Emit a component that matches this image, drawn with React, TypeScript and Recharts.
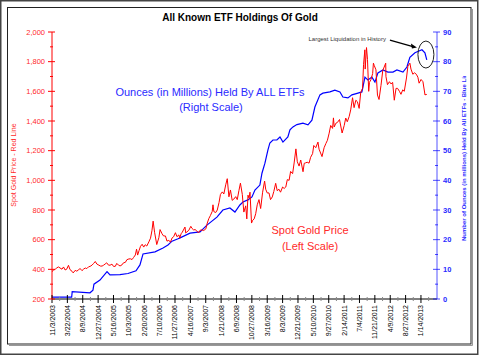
import React from "react";
import { LineChart, Line, XAxis, YAxis, ReferenceDot } from "recharts";

// x axis labels (every 20 weeks) and the right end of the axis
const tickLabels = [
  "11/3/2003", "3/22/2004", "8/9/2004", "12/27/2004", "5/16/2005", "10/3/2005",
  "2/20/2006", "7/10/2006", "11/27/2006", "4/16/2007", "9/3/2007", "1/21/2008",
  "6/9/2008", "10/27/2008", "3/16/2009", "8/3/2009", "12/21/2009", "5/10/2010",
  "9/27/2010", "2/14/2011", "7/4/2011", "11/21/2011", "4/9/2012", "8/27/2012", "1/14/2013",
];
const axisEnd = "6/9/2013";

const goldTicks = [200, 400, 600, 800, 1000, 1200, 1400, 1600, 1800, 2000];
const etfTicks = [0, 10, 20, 30, 40, 50, 60, 70, 80, 90];

// spot gold
const goldDates = [
  "2003-11-03", "2003-11-17", "2003-12-01", "2003-12-15", "2004-01-02", "2004-01-15", "2004-02-02", "2004-02-16",
  "2004-03-01", "2004-03-15", "2004-04-01", "2004-04-15", "2004-05-03", "2004-05-14", "2004-06-01", "2004-06-15",
  "2004-07-01", "2004-07-15", "2004-08-02", "2004-08-16", "2004-09-01", "2004-09-15", "2004-10-01", "2004-10-15",
  "2004-11-01", "2004-11-15", "2004-12-01", "2004-12-15", "2005-01-03", "2005-01-17", "2005-02-01", "2005-02-15",
  "2005-03-01", "2005-03-15", "2005-04-01", "2005-04-15", "2005-05-02", "2005-05-16", "2005-06-01", "2005-06-15",
  "2005-07-01", "2005-07-15", "2005-08-01", "2005-08-15", "2005-09-01", "2005-09-15", "2005-10-03", "2005-10-17",
  "2005-11-01", "2005-11-15", "2005-12-01", "2005-12-12", "2005-12-22", "2006-01-03", "2006-01-17", "2006-02-01",
  "2006-02-15", "2006-03-01", "2006-03-15", "2006-04-03", "2006-04-18", "2006-05-01", "2006-05-12", "2006-05-25",
  "2006-06-14", "2006-07-03", "2006-07-14", "2006-08-01", "2006-08-15", "2006-09-01", "2006-09-15", "2006-10-02",
  "2006-10-16", "2006-11-01", "2006-11-15", "2006-12-01", "2006-12-15", "2007-01-02", "2007-01-09", "2007-01-22",
  "2007-02-01", "2007-02-26", "2007-03-05", "2007-03-15", "2007-04-02", "2007-04-20", "2007-05-01", "2007-05-15",
  "2007-06-01", "2007-06-15", "2007-07-02", "2007-07-16", "2007-08-01", "2007-08-16", "2007-09-04", "2007-09-17",
  "2007-10-01", "2007-10-15", "2007-11-01", "2007-11-08", "2007-11-16", "2007-12-03", "2007-12-17", "2008-01-02",
  "2008-01-15", "2008-02-01", "2008-02-15", "2008-03-03", "2008-03-17", "2008-04-01", "2008-04-15", "2008-05-01",
  "2008-05-15", "2008-06-02", "2008-06-16", "2008-07-01", "2008-07-15", "2008-08-01", "2008-08-15", "2008-09-01",
  "2008-09-11", "2008-09-22", "2008-10-01", "2008-10-10", "2008-10-24", "2008-11-03", "2008-11-17", "2008-12-01",
  "2008-12-15", "2008-12-31", "2009-01-15", "2009-02-02", "2009-02-20", "2009-03-02", "2009-03-16", "2009-04-01",
  "2009-04-15", "2009-05-01", "2009-05-15", "2009-06-01", "2009-06-15", "2009-07-01", "2009-07-15", "2009-08-03",
  "2009-08-17", "2009-09-01", "2009-09-15", "2009-10-01", "2009-10-15", "2009-11-02", "2009-11-16", "2009-12-02",
  "2009-12-15", "2009-12-31", "2010-01-15", "2010-02-05", "2010-02-16", "2010-03-01", "2010-03-15", "2010-04-01",
  "2010-04-15", "2010-05-03", "2010-05-14", "2010-06-01", "2010-06-21", "2010-07-01", "2010-07-28", "2010-08-16",
  "2010-09-01", "2010-09-15", "2010-10-01", "2010-10-15", "2010-11-01", "2010-11-09", "2010-11-16", "2010-12-01",
  "2010-12-15", "2011-01-03", "2011-01-27", "2011-02-15", "2011-03-01", "2011-03-15", "2011-04-01", "2011-04-15",
  "2011-05-02", "2011-05-16", "2011-06-01", "2011-06-15", "2011-07-01", "2011-07-15", "2011-08-01", "2011-08-10",
  "2011-08-22", "2011-08-25", "2011-09-06", "2011-09-15", "2011-09-26", "2011-10-03", "2011-10-17", "2011-11-01",
  "2011-11-08", "2011-11-15", "2011-12-01", "2011-12-15", "2011-12-29", "2012-01-16", "2012-02-01", "2012-02-28",
  "2012-03-01", "2012-03-15", "2012-04-02", "2012-04-16", "2012-05-01", "2012-05-16", "2012-06-01", "2012-06-15",
  "2012-07-02", "2012-07-16", "2012-08-01", "2012-08-15", "2012-09-04", "2012-09-17", "2012-10-05", "2012-10-15",
  "2012-11-01", "2012-11-15", "2012-12-03", "2012-12-17", "2012-12-28", "2013-01-15", "2013-02-01", "2013-02-20",
  "2013-03-01", "2013-03-08",
];
const goldPrices = [
  383, 397, 398, 410, 416, 409, 401, 416,
  396, 400, 427, 398, 387, 376, 393, 388,
  395, 406, 391, 401, 409, 405, 417, 420,
  428, 439, 453, 436, 428, 422, 422, 428,
  436, 444, 428, 428, 435, 420, 420, 440,
  428, 423, 430, 444, 447, 465, 470, 471,
  466, 480, 497, 536, 496, 525, 555, 569,
  550, 566, 557, 585, 610, 660, 725, 650,
  567, 613, 668, 640, 625, 625, 590, 596,
  583, 612, 620, 647, 620, 632, 610, 640,
  650, 685, 645, 652, 663, 690, 676, 666,
  668, 655, 648, 665, 665, 662, 673, 712,
  742, 762, 790, 835, 789, 783, 800, 850,
  905, 922, 908, 970, 1011, 889, 935, 865,
  873, 890, 870, 930, 981, 905, 786, 828,
  740, 900, 880, 920, 712, 730, 740, 775,
  835, 870, 810, 920, 995, 940, 915, 915,
  870, 888, 925, 980, 930, 940, 920, 955,
  945, 955, 1005, 1000, 1060, 1045, 1117, 1212,
  1125, 1096, 1137, 1058, 1115, 1118, 1122, 1116,
  1155, 1180, 1235, 1220, 1258, 1210, 1160, 1220,
  1248, 1270, 1318, 1370, 1350, 1421, 1360, 1385,
  1390, 1410, 1319, 1370, 1420, 1395, 1430, 1475,
  1557, 1490, 1540, 1530, 1485, 1590, 1620, 1780,
  1880, 1750, 1895, 1815, 1600, 1660, 1680, 1720,
  1790, 1775, 1745, 1575, 1545, 1640, 1740, 1790,
  1700, 1645, 1665, 1650, 1660, 1540, 1620, 1620,
  1600, 1580, 1610, 1600, 1690, 1770, 1790, 1750,
  1715, 1725, 1715, 1695, 1655, 1680, 1665, 1575,
  1580, 1578,
];

// ETF holdings in millions of ounces
const etfDates = [
  "2003-11-03", "2004-04-30", "2004-05-05", "2004-10-14", "2004-11-10", "2004-11-19", "2005-01-13", "2005-03-18",
  "2005-04-14", "2005-07-14", "2005-09-25", "2005-12-07", "2006-01-12", "2006-02-09", "2006-05-29", "2006-08-10",
  "2006-09-24", "2006-10-31", "2006-12-25", "2007-01-12", "2007-04-13", "2007-07-13", "2007-09-14", "2007-12-14",
  "2008-02-06", "2008-04-10", "2008-05-26", "2008-07-10", "2008-08-07", "2008-09-21", "2008-10-28", "2008-11-24",
  "2009-01-08", "2009-01-27", "2009-02-23", "2009-03-22", "2009-04-09", "2009-05-07", "2009-06-12", "2009-07-10",
  "2009-08-06", "2009-09-20", "2009-10-09", "2009-11-05", "2009-12-11", "2010-02-04", "2010-03-22", "2010-04-27",
  "2010-05-24", "2010-07-09", "2010-08-05", "2010-10-08", "2010-11-22", "2011-01-07", "2011-02-03", "2011-03-21",
  "2011-04-26", "2011-06-20", "2011-07-26", "2011-08-23", "2011-09-19", "2011-10-25", "2011-11-22", "2011-12-19",
  "2012-02-03", "2012-03-19", "2012-05-04", "2012-06-09", "2012-08-03", "2012-09-08", "2012-10-05", "2012-11-20",
  "2013-01-23", "2013-02-19", "2013-03-08",
];
const etfOunces = [
  0.6, 0.6, 2.5, 2.1, 3.0, 5.0, 6.4, 9.2,
  8.1, 8.2, 8.6, 9.5, 11.5, 15.2, 15.9, 17.2,
  18.2, 19.5, 20.3, 20.6, 22.2, 22.6, 24.9, 27.6,
  30.0, 30.7, 29.3, 31.7, 32.7, 33.4, 34.4, 36.7,
  38.4, 42.4, 45.8, 50.2, 52.6, 53.6, 53.6, 54.6,
  52.9, 54.6, 57.0, 58.0, 58.8, 59.3, 58.7, 60.3,
  64.7, 68.8, 69.4, 69.8, 70.4, 69.8, 68.1, 67.8,
  68.8, 69.4, 69.8, 74.8, 73.8, 74.8, 73.1, 76.2,
  77.2, 76.5, 76.5, 77.2, 76.5, 78.2, 81.5, 83.0,
  84.0, 83.0, 80.6,
];

// circled liquidation
const circleDate = "2013-02-28";
const circleOunces = 82.4;

const RED = "#ff0000";
const BLUE = "#0000ff";
const RED_TXT = "#ff2a2a";
const BLUE_TXT = "#2a2aff";
const FONT = "'Liberation Sans', Arial, sans-serif";

const isoTime = (s: string) => {
  const [y, m, d] = s.split("-").map(Number);
  return Date.UTC(y, m - 1, d);
};
const usTime = (s: string) => {
  const [m, d, y] = s.split("/").map(Number);
  return Date.UTC(y, m - 1, d);
};

const goldData = goldDates.map((d, i) => ({ t: isoTime(d), price: goldPrices[i] }));
const etfData = etfDates.map((d, i) => ({ t: isoTime(d), ounces: etfOunces[i] }));

const majorX = tickLabels.map(usTime);
const step = majorX[1] - majorX[0];
const allX = majorX.flatMap((t) => [t, t + step / 2]);
const goldAll = goldTicks.flatMap((v) => (v < 2000 ? [v, v + 100] : [v]));
const etfAll = etfTicks.flatMap((v) => (v < 90 ? [v, v + 5] : [v]));

function BottomTick(props: any) {
  const { x, y, payload } = props;
  const idx = majorX.indexOf(payload.value);
  if (idx < 0) return <line x1={x} x2={x} y1={y - 2} y2={y + 2} stroke="#888" />;
  return (
    <g>
      <line x1={x} x2={x} y1={y - 4} y2={y + 4} stroke="#000" />
      <text
        x={x}
        y={y + 6}
        dy={2.5}
        transform={`rotate(-90 ${x} ${y + 6})`}
        textAnchor="end"
        fontSize={7}
        fontFamily={FONT}
        fill="#000"
      >
        {tickLabels[idx]}
      </text>
    </g>
  );
}

function TopTick(props: any) {
  const { x, y } = props;
  return <line x1={x} x2={x} y1={y - 3} y2={y + 3} stroke="#000" />;
}

function GoldTick(props: any) {
  const { x, y, payload } = props;
  const major = goldTicks.includes(payload.value);
  return (
    <g>
      <line x1={major ? x - 4 : x - 2} x2={major ? x + 3 : x + 1} y1={y} y2={y} stroke={RED} />
      {major && (
        <text x={x - 7} y={y} dy={2.6} textAnchor="end" fontSize={7.5} fontFamily={FONT} fill={RED_TXT}>
          {payload.value.toLocaleString("en-US")}
        </text>
      )}
    </g>
  );
}

function EtfTick(props: any) {
  const { x, y, payload } = props;
  const major = etfTicks.includes(payload.value);
  return (
    <g>
      <line x1={major ? x - 4 : x - 2} x2={major ? x + 3 : x + 1} y1={y} y2={y} stroke={BLUE} strokeOpacity={0.7} />
      {major && (
        <text x={x + 6} y={y} dy={2.6} textAnchor="start" fontSize={7.5} fontWeight="bold" fontFamily={FONT} fill={BLUE_TXT}>
          {payload.value}
        </text>
      )}
    </g>
  );
}

function LiquidationMark(props: any) {
  const { cx, cy } = props;
  const ax = cx - 36;
  const ay = cy - 14.5;
  const bx = cx - 9;
  const by = cy - 7;
  return (
    <g>
      <ellipse cx={cx} cy={cy} rx={8} ry={13.5} fill="none" stroke="#222" strokeWidth={1} />
      <line x1={ax} y1={ay} x2={bx - 4} y2={by - 1} stroke="#000" strokeWidth={1.3} />
      <path d={`M${bx},${by} L${bx - 6},${by - 4} L${bx - 5},${by + 1} Z`} fill="#000" />
      <text x={ax - 4} y={ay + 1} textAnchor="end" fontSize={6} fontFamily={FONT} fill="#333">
        Largest Liquidation in History
      </text>
    </g>
  );
}

export default function App() {
  return (
    <div style={{ position: "absolute", left: 0, top: 0, width: 480, height: 360, background: "#fff" }}>
      <LineChart width={480} height={360} margin={{ top: 32, right: 0, bottom: 0, left: 0 }}>
        <XAxis
          dataKey="t"
          type="number"
          domain={[majorX[0], usTime(axisEnd)]}
          allowDataOverflow
          ticks={allX}
          interval={0}
          height={61}
          stroke="#000"
          tickSize={0}
          tickMargin={0}
          tick={BottomTick}
        />
        <XAxis
          xAxisId="top"
          dataKey="t"
          type="number"
          orientation="top"
          domain={[majorX[0], usTime(axisEnd)]}
          allowDataOverflow
          ticks={allX}
          interval={0}
          height={0}
          stroke="#000"
          tickSize={0}
          tickMargin={0}
          tick={TopTick}
        />
        <YAxis
          yAxisId="gold"
          domain={[200, 2000]}
          ticks={goldAll}
          interval={0}
          width={52}
          stroke={RED}
          tickSize={0}
          tickMargin={0}
          tick={GoldTick}
        />
        <YAxis
          yAxisId="etf"
          orientation="right"
          domain={[0, 90]}
          ticks={etfAll}
          interval={0}
          width={43}
          stroke="#5555ff"
          tickSize={0}
          tickMargin={0}
          tick={EtfTick}
        />
        <Line
          data={etfData}
          yAxisId="etf"
          dataKey="ounces"
          type="linear"
          stroke={BLUE}
          strokeWidth={1.2}
          dot={false}
          isAnimationActive={false}
        />
        <Line
          data={goldData}
          yAxisId="gold"
          dataKey="price"
          type="linear"
          stroke={RED}
          strokeWidth={1}
          dot={false}
          isAnimationActive={false}
        />
        <ReferenceDot
          yAxisId="etf"
          x={isoTime(circleDate)}
          y={circleOunces}
          r={1}
          shape={LiquidationMark}
        />
      </LineChart>
      <svg
        width={480}
        height={360}
        style={{ position: "absolute", left: 0, top: 0, pointerEvents: "none" }}
        fontFamily={FONT}
      >
        <defs>
          <clipPath id="rlab">
            <rect x={440} y={76} width={40} height={200} />
          </clipPath>
        </defs>
        <rect x={0.75} y={0.75} width={477} height={353.5} fill="none" stroke="#444" strokeWidth={1.5} />
        <rect x={7.5} y={7.5} width={463.5} height={336.5} fill="none" stroke="#222" strokeWidth={1} />
        <line x1={472.5} y1={9} x2={472.5} y2={345.5} stroke="#999" />
        <line x1={9} y1={345.5} x2={472.5} y2={345.5} stroke="#999" />
        <text x={240} y={20.5} textAnchor="middle" fontSize={10} fontWeight="bold" fill="#000">
          All Known ETF Holdings Of Gold
        </text>
        <text x={210} y={96} textAnchor="middle" fontSize={11} fill={BLUE_TXT}>
          Ounces (in Millions) Held By ALL ETFs
        </text>
        <text x={211} y={111} textAnchor="middle" fontSize={11} fill={BLUE_TXT}>
          (Right Scale)
        </text>
        <text x={310} y={234} textAnchor="middle" fontSize={11} fill={RED_TXT}>
          Spot Gold Price
        </text>
        <text x={310} y={250} textAnchor="middle" fontSize={11} fill={RED_TXT}>
          (Left Scale)
        </text>
        <text
          x={13}
          y={165}
          dy={2.5}
          transform="rotate(-90 13 165)"
          textAnchor="middle"
          fontSize={7}
          fill={RED_TXT}
        >
          Spot Gold Price - Red Line
        </text>
        <g clipPath="url(#rlab)">
          <text
            x={464}
            y={241}
            dy={2.3}
            transform="rotate(-90 464 241)"
            textAnchor="start"
            fontSize={6}
            fontWeight="bold"
            fill={BLUE_TXT}
          >
            Number of Ounces (in millions) Held By All ETFs - Blue Line
          </text>
        </g>
      </svg>
    </div>
  );
}
